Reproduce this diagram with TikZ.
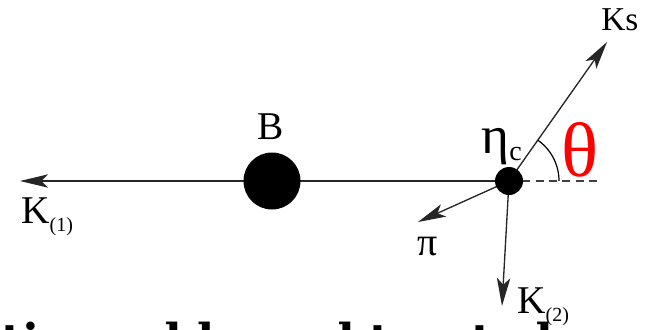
\documentclass[tikz,border=0pt]{standalone}
\usepackage{fontspec}
\setmainfont{Liberation Serif}
\newfontfamily\slabfont{DejaVu Serif}
\usetikzlibrary{arrows.meta}
\tikzset{
  px/.style={x=0.75pt,y=-0.75pt},
  ray/.style={draw=black!85,line width=1pt,-{Stealth[length=21pt,width=10pt,inset=5pt]}},
  bigdot/.style={circle,fill=black,inner sep=0pt,minimum size=42.75pt},
  smalldot/.style={circle,fill=black,inner sep=0pt,minimum size=21pt},
  lbl/.style={inner sep=0pt,anchor=base west},
}
\newcommand\fsz[1]{\fontsize{#1}{#1}\selectfont}
\begin{document}
\begin{tikzpicture}[px]
\useasboundingbox (0,0) rectangle (646,329);
\coordinate (k1) at (20,181);
\coordinate (ks) at (607,42);
\coordinate (pi) at (418,222);
\coordinate (k2) at (502,306);
\coordinate (dend) at (600,181);
\coordinate (etac) at (509,181);
\draw[ray] (etac) -- (k1);
\draw[ray] (etac) -- (ks);
\draw[ray] (etac) -- (pi);
\draw[ray] (etac) -- (k2);
\draw[black!75,line width=1pt,dash pattern=on 6pt off 4pt] (etac) -- (dend);
\draw[black,line width=0.9pt] ([xshift=37.5pt]etac) arc[start angle=0,end angle=55,radius=37.5pt];
\node[bigdot] (B) at (272,181) {};
\node[smalldot] (eta) at (etac) {};
\node[lbl] (lB) at (257,139) {\fsz{29.5pt}B};
\node[lbl] (lK1) at (21,223) {\fsz{29.5pt}K\raisebox{-6pt}{\fsz{15pt}(1)}};
\node[lbl] (lK2) at (517,313) {\fsz{29.5pt}K\raisebox{-6pt}{\fsz{15pt}(2)}};
\node[lbl] (lKs) at (601,30) {\fsz{25pt}Ks};
\node[lbl] (leta) at (481,153) {\fsz{40pt}η};
\node[lbl] (lc) at (509,160) {\fsz{21pt}c};
\node[lbl,text=red] (lth) at (561,176) {\fsz{58pt}θ};
\node[lbl] (lpi) at (417,255) {\fsz{30pt}π};
\begin{scope}
\clip (0,0) rectangle (646,329);
\node[lbl] (bot) at (1,356) {\slabfont\bfseries\fsz{34pt}tions: bkg-subtracted};
\end{scope}
\end{tikzpicture}
\end{document}
